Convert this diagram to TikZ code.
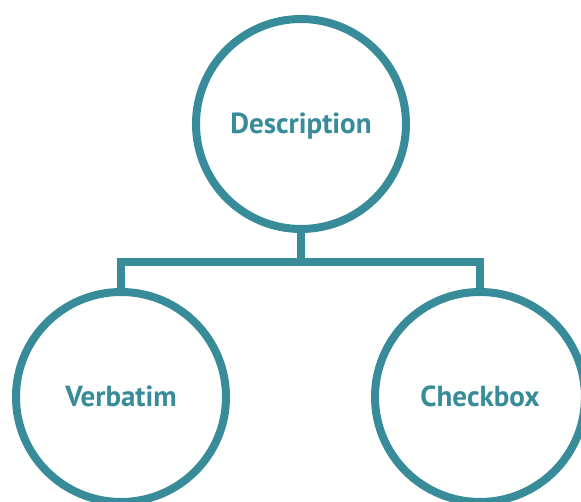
\documentclass[tikz,border=0pt]{standalone}
\usepackage{fontspec}
\setmainfont{PT Sans}
\definecolor{teal}{RGB}{56,139,153}

\begin{document}
\begin{tikzpicture} [x=1pt, y=1pt,
	topic/.style = {draw = teal,
		circle,
		line width = 8pt,
		minimum size = 210pt,
		text = teal,
		text height = 20pt,
		text depth = 0pt,
		font = \fontsize{29}{33}\selectfont\bfseries},
	link/.style = {draw = teal, line width = 8pt}]

	\useasboundingbox (0,0) rectangle (581,502);

	\node (desc) at (301,378) [topic] {Description};
	\node (verb) at (121,105) [topic] {Verbatim};
	\node (check) at (480,105) [topic] {Checkbox};

	% bus line between the levels
	\coordinate (bus) at (0,240);
	\draw [link] (desc.south) -- (desc.south |- bus);
	\draw [link] (verb.north) |- (check.north |- bus) -- (check.north);

\end{tikzpicture}
\end{document}
